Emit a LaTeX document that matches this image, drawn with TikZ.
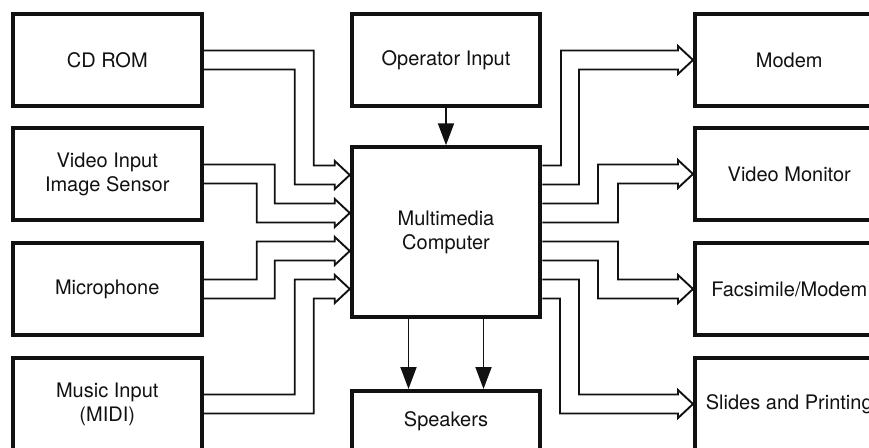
\documentclass[tikz,border=0pt]{standalone}
\usepackage{fontspec}
\setmainfont{TeX Gyre Heros}
\usepackage{tikz}
\usetikzlibrary{arrows.meta,calc}
\definecolor{ink}{HTML}{111111}
\tikzset{fig/.style={line join=miter,>=Triangle,draw=ink,text=ink},
  blk/.style={draw,line width=4pt,minimum width=188.5pt,minimum height=92.5pt,align=center,inner sep=0pt},
  bus/.style={line width=1.9pt},
  sig/.style={line width=1.9pt,-{Triangle[length=22pt,width=16pt]}}}
% double line arrow: from, tip, back x of upper line, back x of lower line
\newcommand\busarrow[4]{\draw[bus]($#1+(0,-9.5)$)-|($#2+(-#3,-9.5)$)--($#2+(-15,-9.5)$)--($#2+(-15,-14)$)--#2--($#2+(-15,14)$)--($#2+(-15,9.5)$)--($#2+(-#4,9.5)$)|-($#1+(0,9.5)$);}

\begin{document}
\begin{tikzpicture}[fig,x=1pt,y=-1pt,font=\fontsize{20}{24}\selectfont]
  \useasboundingbox(0,0)rectangle(869,447);\clip(0,0)rectangle(869,447);
  \node[blk](cdrom)at(107.25,60){CD ROM};\node[blk](vidin)at(107.25,174){Video Input\\Image Sensor};
  \node[blk](mic)at(107.25,289){Microphone};\node[blk](midi)at(107.25,404){Music Input\\(MIDI)};
  \node[blk](op)at(446,60){Operator Input};\node[blk,minimum height=169.5pt](mmc)at(446,232){Multimedia\\Computer};
  \node[blk,minimum height=60pt](spk)at(446,421){Speakers};
  \node[blk](modem)at(789.25,60){Modem};\node[blk](vidmon)at(789.25,174){Video Monitor};
  \node[blk](fax)at(789.25,289){Facsimile/Modem};\node[blk](slides)at(789.25,404){Slides and Printing};
  \foreach \k/\d in {1/-57,2/-19,3/19,4/57}{\coordinate(in\k)at($(mmc.west)+(0,\d)$);\coordinate(out\k)at($(mmc.east)+(0,\d)$);}
  \busarrow{(cdrom.east)}{(in1)}{36}{55}\busarrow{(vidin.east)}{(in2)}{75}{93}
  \busarrow{(mic.east)}{(in3)}{93}{75}\busarrow{(midi.east)}{(in4)}{55}{36}
  \busarrow{(out1)}{(modem.west)}{132}{114}\busarrow{(out2)}{(vidmon.west)}{95}{75}
  \busarrow{(out3)}{(fax.west)}{75}{95}\busarrow{(out4)}{(slides.west)}{114}{133}
  \draw[sig](op)--(mmc);
  \foreach \s in {-37.5,37.5}\draw[sig]([xshift=\s pt]mmc.south)--([xshift=\s pt]spk.north);
\end{tikzpicture}
\end{document}
